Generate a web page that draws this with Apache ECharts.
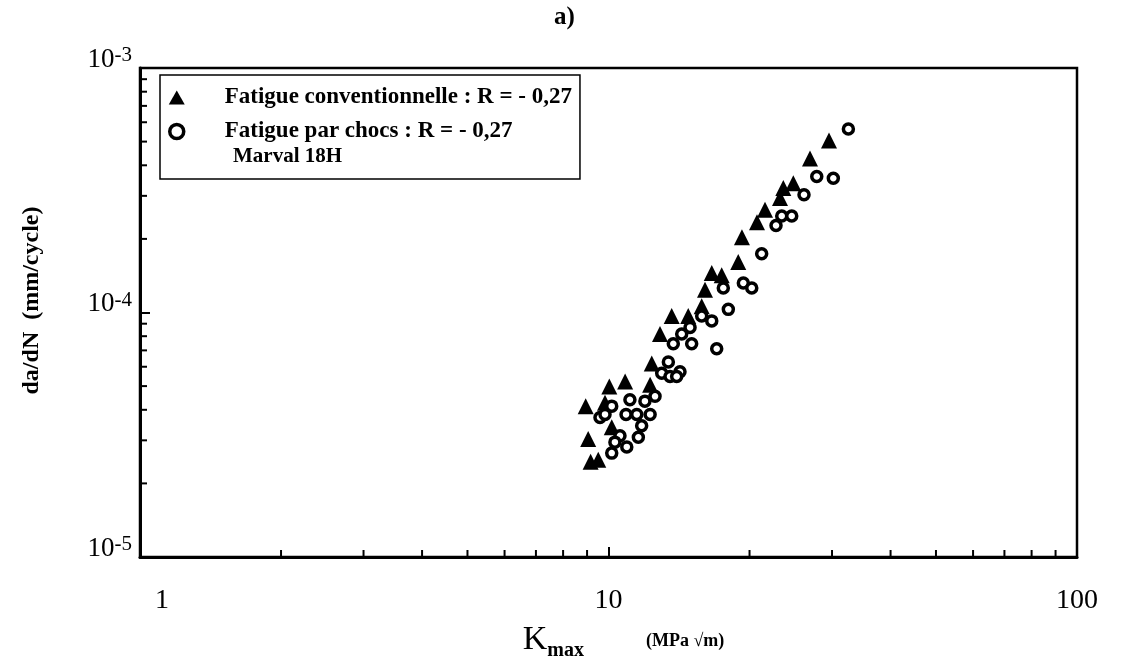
<!DOCTYPE html>
<html>
<head>
    <meta charset="utf-8">
    <title>da/dN - Kmax</title>
    <script src="https://cdn.jsdelivr.net/npm/echarts@6/dist/echarts.min.js"></script>
</head>
<body style="margin:0">
    <div id="chart" style="width: 1128px; height: 666px;"></div>

    <script>
    // Fatigue conventionnelle (triangles)
    const kConv = [8.94, 9.05, 9.16, 9.51, 9.83, 10.04, 10.16, 10.85, 12.27, 12.37,
                   12.88, 13.64, 14.80, 15.81, 16.07, 16.61, 17.44, 18.92, 19.27, 20.75,
                   21.58, 23.23, 23.61, 24.80, 26.92, 29.56];
    const daConv = [4.14e-5, 3.04e-5, 2.45e-5, 2.50e-5, 4.27e-5, 4.98e-5, 3.39e-5, 5.22e-5, 5.06e-5, 6.19e-5,
                    8.17e-5, 9.68e-5, 9.68e-5, 1.06e-4, 1.24e-4, 1.45e-4, 1.42e-4, 1.61e-4, 2.03e-4, 2.34e-4,
                    2.63e-4, 2.94e-4, 3.23e-4, 3.38e-4, 4.26e-4, 5.05e-4];

    // Fatigue par chocs (rings)
    const kChoc = [9.59, 9.83, 10.16, 10.90, 11.49, 12.27, 11.77, 11.58, 10.58, 10.32,
                   10.94, 10.16, 12.57, 11.96, 11.11, 13.42, 14.21, 12.99, 13.53, 13.98,
                   13.75, 15.05, 17.02, 14.33, 14.93, 15.81, 16.61, 18.02, 17.58, 19.40,
                   20.22, 21.23, 22.78, 23.43, 24.61, 26.14, 27.83, 30.19, 32.51];
    const daChoc = [3.72e-5, 3.83e-5, 4.14e-5, 3.83e-5, 3.83e-5, 3.83e-5, 3.44e-5, 3.09e-5, 3.13e-5, 2.95e-5,
                    2.82e-5, 2.66e-5, 4.54e-5, 4.34e-5, 4.40e-5, 6.28e-5, 5.72e-5, 5.64e-5, 5.47e-5, 5.47e-5,
                    7.45e-5, 7.45e-5, 7.11e-5, 8.17e-5, 8.69e-5, 9.68e-5, 9.24e-5, 1.03e-4, 1.26e-4, 1.32e-4,
                    1.26e-4, 1.74e-4, 2.27e-4, 2.48e-4, 2.48e-4, 3.03e-4, 3.60e-4, 3.54e-4, 5.63e-4];

    // tick labels
    const xTickLabels = ['1', '10', '100'];
    const yTickBase = '10';
    const yTickExps = ['-5', '-4', '-3'];
    const xMinorTicks = [2, 3, 4, 5, 6, 7, 8, 9, 20, 30, 40, 50, 60, 70, 80, 90];
    const yMinorTicks = [2e-5, 3e-5, 4e-5, 5e-5, 6e-5, 7e-5, 8e-5, 9e-5,
                         2e-4, 3e-4, 4e-4, 5e-4, 6e-4, 7e-4, 8e-4, 9e-4];

    const nameConv = 'Fatigue conventionnelle : R = - 0,27';
    const nameChoc = 'Fatigue par chocs : R = - 0,27';
    const serif = 'Liberation Serif';

    const chart = echarts.init(document.getElementById('chart'));

    function minorX(params, api) {
        const p = api.coord([api.value(0), 1e-5]);
        return { type: 'line', shape: { x1: p[0], y1: p[1], x2: p[0], y2: p[1] - 7 },
                 style: { stroke: '#000', lineWidth: 2 } };
    }
    function minorY(params, api) {
        const p = api.coord([1, api.value(0)]);
        return { type: 'line', shape: { x1: p[0], y1: p[1], x2: p[0] + 7, y2: p[1] },
                 style: { stroke: '#000', lineWidth: 2 } };
    }

    const option = {
        backgroundColor: '#fff',
        animation: false,
        title: {
            text: 'a)',
            left: 549, top: 0,
            textStyle: { fontFamily: serif, fontWeight: 'bold', fontSize: 25, color: '#000' }
        },
        grid: {
            left: 140, right: 51, top: 68, bottom: 101,
            show: true, borderColor: '#000', borderWidth: 2.5
        },
        legend: {
            data: [
                { name: nameConv, icon: 'triangle' },
                { name: nameChoc, icon: 'circle', itemStyle: { borderWidth: 3.5 } }
            ],
            orient: 'vertical',
            left: 160, top: 75,
            itemWidth: 16, itemHeight: 14, itemGap: 11,
            padding: [11, 8, 36, 8],
            borderColor: '#000', borderWidth: 1.5,
            formatter: n => '{t|' + n + '}',
            textStyle: {
                fontFamily: serif, fontWeight: 'bold', fontSize: 23, color: '#000',
                rich: { t: { fontFamily: serif, fontWeight: 'bold', fontSize: 23, color: '#000',
                             padding: [0, 0, 0, 35], lineHeight: 20 } }
            }
        },
        graphic: [{
            type: 'text', left: 233, top: 146,
            style: { text: 'Marval 18H', fontFamily: serif, fontWeight: 'bold', fontSize: 21, fill: '#000' }
        }],
        xAxis: {
            type: 'log', logBase: 10, min: 1, max: 100,
            name: '{k|K}{s|max}{u|(MPa \u221Am)}',
            nameLocation: 'middle', nameGap: 66,
            nameTextStyle: {
                padding: [0, 0, 0, 30],
                rich: {
                    k: { fontFamily: serif, fontSize: 34, color: '#000', verticalAlign: 'top', lineHeight: 38 },
                    s: { fontFamily: serif, fontWeight: 'bold', fontSize: 20, color: '#000', verticalAlign: 'bottom', lineHeight: 38 },
                    u: { fontFamily: serif, fontWeight: 'bold', fontSize: 18, color: '#000', verticalAlign: 'top',
                         padding: [9, 0, 0, 62], lineHeight: 38 }
                }
            },
            axisLine: { lineStyle: { color: '#000', width: 3 } },
            axisTick: { inside: true, length: 10, lineStyle: { color: '#000', width: 2 } },
            splitLine: { show: false },
            axisLabel: {
                margin: 30,
                formatter: v => {
                    const i = Math.round(Math.log10(v));
                    return i === 0 ? '{f|' + xTickLabels[i] + '}' : '{a|' + xTickLabels[i] + '}';
                },
                rich: {
                    a: { fontFamily: serif, fontSize: 28, color: '#000' },
                    f: { fontFamily: serif, fontSize: 28, color: '#000', padding: [0, 0, 0, 44] }
                }
            }
        },
        yAxis: {
            type: 'log', logBase: 10, min: 1e-5, max: 1e-3,
            name: 'da/dN  (mm/cycle)',
            nameLocation: 'middle', nameGap: 96,
            nameTextStyle: { fontFamily: serif, fontWeight: 'bold', fontSize: 24, color: '#000',
                             padding: [0, 0, 0, 24] },
            axisLine: { lineStyle: { color: '#000', width: 3 } },
            axisTick: { inside: true, length: 10, lineStyle: { color: '#000', width: 2 } },
            splitLine: { show: false },
            axisLabel: {
                margin: 8,
                verticalAlign: 'middle',
                padding: [0, 0, 18, 0],
                formatter: v => '{b|' + yTickBase + '}{e|' + yTickExps[Math.round(Math.log10(v)) + 5] + '}',
                rich: {
                    b: { fontFamily: serif, fontSize: 27, color: '#000', verticalAlign: 'bottom', lineHeight: 28 },
                    e: { fontFamily: serif, fontSize: 21, color: '#000', verticalAlign: 'top', lineHeight: 18 }
                }
            }
        },
        series: [
            {
                type: 'custom', silent: true, renderItem: minorX,
                data: xMinorTicks.map(v => [v, 1e-5]), z: 1
            },
            {
                type: 'custom', silent: true, renderItem: minorY,
                data: yMinorTicks.map(v => [v]), encode: { y: 0 }, z: 1
            },
            {
                name: nameConv, type: 'scatter', symbol: 'triangle', symbolSize: 16,
                itemStyle: { color: '#000', opacity: 1 },
                data: kConv.map((k, i) => [k, daConv[i]]), z: 3
            },
            {
                name: nameChoc, type: 'scatter', symbol: 'circle', symbolSize: 10,
                itemStyle: { color: '#fff', borderColor: '#000', borderWidth: 3.5, opacity: 1 },
                data: kChoc.map((k, i) => [k, daChoc[i]]), z: 4
            }
        ]
    };

    chart.setOption(option);
    </script>
</body>
</html>
